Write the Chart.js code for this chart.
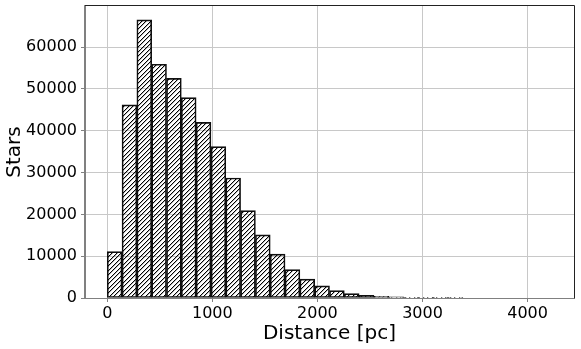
<!DOCTYPE html>
<html>
<head>
<meta charset="utf-8">
<script src="https://cdn.jsdelivr.net/npm/chart.js@4/dist/chart.umd.min.js"></script>
<style>
html,body{margin:0;padding:0;background:#fff;}
#wrap{width:581px;height:349px;}
</style>
</head>
<body>
<div id="wrap"><canvas id="c" width="581" height="349"></canvas></div>
<script>
// Histogram bins (centres, pc) and star counts per bin
const binCenters = [70.5, 211.5, 352.5, 493.5, 634.5, 775.5, 916.5, 1057.5, 1198.5, 1339.5,
  1480.5, 1621.5, 1762.5, 1903.5, 2044.5, 2185.5, 2326.5, 2467.5, 2608.5, 2749.5,
  2890.5, 3031.5, 3172.5, 3313.5, 3454.5, 3595.5, 3736.5, 3877.5, 4018.5, 4159.5];
const starCounts = [11100, 46200, 66500, 55900, 52500, 47900, 42000, 36200, 28700, 20900,
  15100, 10500, 6800, 4500, 2900, 1750, 1050, 650, 420, 260,
  150, 90, 50, 25, 0, 0, 0, 0, 0, 0];
const xTickValues = [0, 1000, 2000, 3000, 4000];
const yTickValues = [0, 10000, 20000, 30000, 40000, 50000, 60000];
const xLabel = 'Distance [pc]';
const yLabel = 'Stars';

function makeHatch() {
  const s = 9;
  const c = document.createElement('canvas');
  c.width = s; c.height = s;
  const g = c.getContext('2d');
  const img = g.createImageData(s, s);
  for (let y = 0; y < s; y++) {
    for (let x = 0; x < s; x++) {
      const k = (x + y) % s;
      let a = 0;
      if (k === 0 || k === 4) a = 255;
      else if (k === 1 || k === 5) a = 70;
      const i = (y * s + x) * 4;
      img.data[i] = 0; img.data[i+1] = 0; img.data[i+2] = 0; img.data[i+3] = a;
    }
  }
  g.putImageData(img, 0, 0);
  return g.createPattern(c, 'repeat');
}

const FONT = 'DejaVu Sans';
const frame = {
  id: 'frame',
  afterDraw(chart) {
    const a = chart.chartArea, ctx = chart.ctx;
    const l = Math.round(a.left) - 0.5, r = Math.round(a.right) + 0.5;
    const t = Math.round(a.top) - 0.5, b = Math.round(a.bottom) + 0.5;
    ctx.save();
    ctx.lineWidth = 1;
    ctx.strokeStyle = '#222';
    ctx.beginPath();
    ctx.moveTo(l, t); ctx.lineTo(r, t); ctx.lineTo(r, b);
    ctx.stroke();
    ctx.strokeStyle = '#808080';
    ctx.beginPath();
    ctx.moveTo(l, t); ctx.lineTo(l, b); ctx.lineTo(r, b);
    ctx.stroke();
    ctx.restore();
  }
};

new Chart(document.getElementById('c'), {
  type: 'bar',
  data: {
    datasets: [{
      data: binCenters.map((x, i) => ({x: x, y: starCounts[i]})),
      backgroundColor: makeHatch(),
      borderColor: '#111',
      borderWidth: 1,
      borderSkipped: false,
      barPercentage: 1,
      categoryPercentage: 1
    }]
  },
  options: {
    responsive: false,
    animation: false,
    devicePixelRatio: 1,
    layout: {padding: {top: 6, right: 7, left: 0, bottom: 0}},
    plugins: {legend: {display: false}, tooltip: {enabled: false}},
    scales: {
      x: {
        type: 'linear',
        min: -211.5, max: 4441.5,
        offset: false,
        afterBuildTicks: s => { s.ticks = xTickValues.map(v => ({value: v})); },
        afterFit: s => { s.height = 51; s.paddingLeft = 0; s.paddingRight = 0; },
        ticks: {font: {family: FONT, size: 16}, color: '#000', padding: 2, maxRotation: 0,
          callback: v => String(v)},
        grid: {color: '#c8c8c8', lineWidth: 1, tickLength: 4, tickColor: '#808080', offset: false},
        border: {color: '#808080', width: 1},
        title: {display: true, text: xLabel, color: '#000', font: {family: FONT, size: 20},
          padding: {top: 0, bottom: 3}}
      },
      y: {
        min: 0, max: 69825,
        afterBuildTicks: s => { s.ticks = yTickValues.map(v => ({value: v})); },
        afterFit: s => { s.width = 85; s.paddingTop = 0; s.paddingBottom = 0; },
        ticks: {font: {family: FONT, size: 16}, color: '#000', padding: 4,
          callback: v => String(v)},
        grid: {color: '#c8c8c8', lineWidth: 1, tickLength: 4, tickColor: '#808080'},
        border: {color: '#808080', width: 1},
        title: {display: true, text: yLabel, color: '#000', font: {family: FONT, size: 20},
          padding: {top: 3, bottom: 0}}
      }
    }
  },
  plugins: [frame]
});
</script>
</body>
</html>
